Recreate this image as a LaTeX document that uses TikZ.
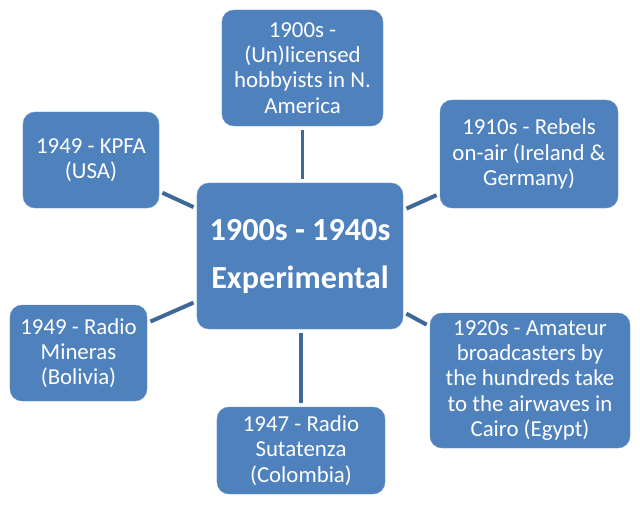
\documentclass[tikz,border=0pt]{standalone}
\usepackage{fontspec}
\setmainfont{Carlito}
\usepackage{tikz}

\definecolor{boxblue}{HTML}{4F81BD}
\definecolor{linkblue}{HTML}{3D6899}

\tikzset{
  eventbox/.style={rectangle, rounded corners=0.36cm, fill=boxblue, draw=boxblue!85!white,
    text=white, align=center, inner sep=0pt,
    font=\fontsize{19.5}{21.5}\selectfont},
  mainbox/.style={eventbox, font=\fontsize{27.5}{41}\selectfont\bfseries},
  link/.style={linkblue, line width=3.4pt, shorten <=3pt, shorten >=3pt}
}

\begin{document}
\begin{tikzpicture}[x=0.03cm,y=-0.03cm]
  \useasboundingbox (0,0) rectangle (640,505);
  % centre
  \node[mainbox, minimum width=6.18cm, minimum height=4.38cm] (main) at (300,256)
    {1900s - 1940s\\Experimental};
  % events round it
  \node[eventbox, minimum width=4.83cm, minimum height=3.48cm] (amer) at (302.5,68)
    {1900s -\\(Un)licensed\\hobbyists in N.\\America};
  \node[eventbox, minimum width=5.34cm, minimum height=3.24cm] (rebels) at (529,154)
    {1910s - Rebels\\on-air (Ireland \&\\Germany)};
  \node[eventbox, minimum width=6.0cm, minimum height=4.05cm] (cairo) at (530,380.5)
    {1920s - Amateur\\broadcasters by\\the hundreds take\\to the airwaves in\\Cairo (Egypt)};
  \node[eventbox, minimum width=5.04cm, minimum height=2.61cm] (sutatenza) at (301,450.5)
    {1947 - Radio\\Sutatenza\\(Colombia)};
  \node[eventbox, minimum width=4.11cm, minimum height=2.88cm] (mineras) at (78.5,353)
    {1949 - Radio\\Mineras\\(Bolivia)};
  \node[eventbox, minimum width=4.08cm, minimum height=2.88cm] (kpfa) at (91,160)
    {1949 - KPFA\\(USA)};

  \draw[link] (amer) -- (amer |- main.north);
  \draw[link] (main) -- (rebels);
  \draw[link] (main) -- (cairo);
  \draw[link] (sutatenza) -- (sutatenza |- main.south);
  \draw[link] (main) -- (mineras);
  \draw[link] (main) -- (kpfa);
\end{tikzpicture}
\end{document}
